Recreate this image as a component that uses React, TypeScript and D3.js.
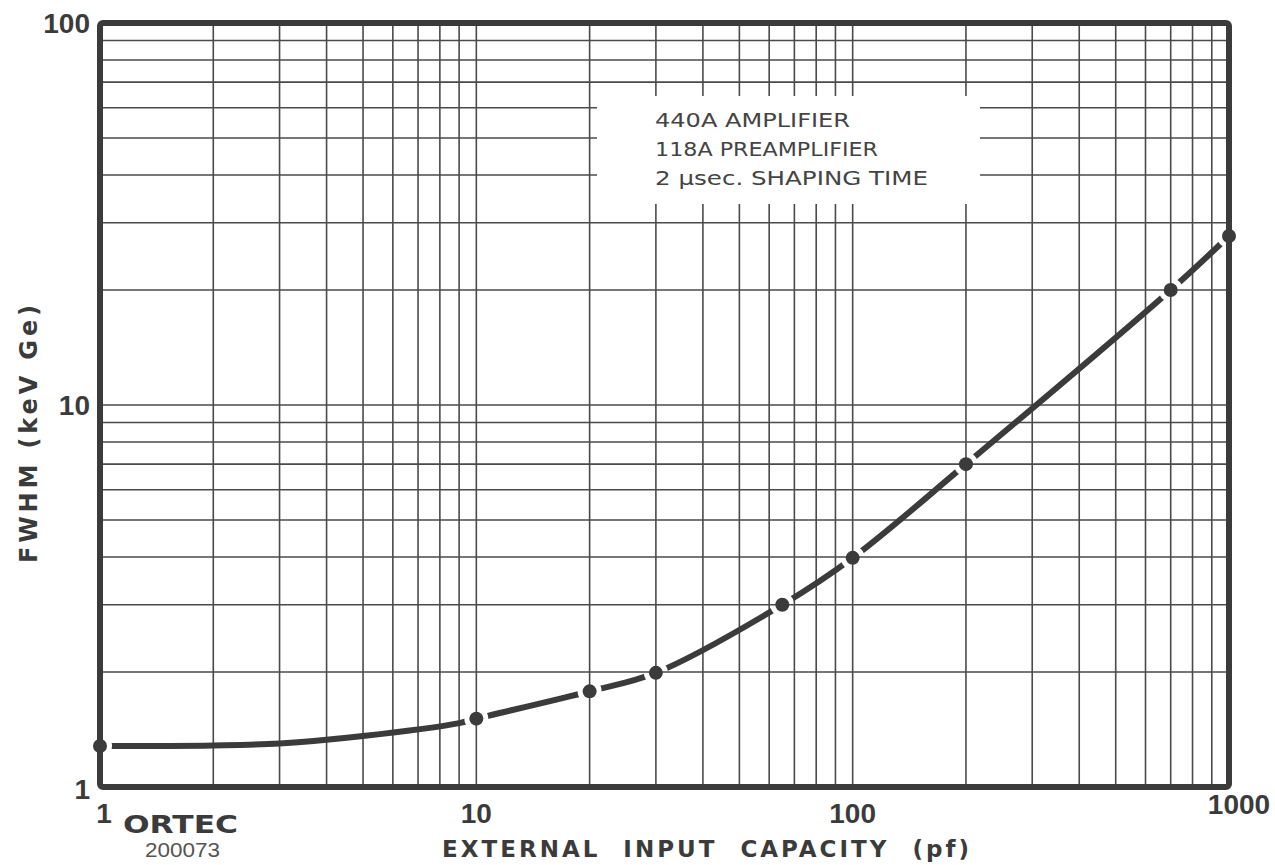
import React from "react";
import * as d3 from "d3";

const W = 1275;
const H = 865;
const MARGIN = { top: 23, right: 46, bottom: 78, left: 100 };

// values
const xTickLabels = [1, 10, 100, 1000];
const yTickLabels = [1, 10, 100];
// measured points (dots on the curve): capacity pF, FWHM keV
const dotCap = [1, 10, 20, 30, 65, 100, 200, 700, 1000];
const dotFwhm = [1.28, 1.51, 1.78, 1.99, 3.0, 3.98, 7.0, 20, 27.7];
// extra readings of the drawn curve between the dots
const curveCap = [1, 2, 3, 5, 9, 10, 20, 30, 65, 100, 200, 700, 1000];
const curveFwhm = [1.28, 1.285, 1.3, 1.36, 1.47, 1.51, 1.78, 1.99, 3.0, 3.98, 7.0, 20, 27.7];
const noteLines = ["440A AMPLIFIER", "118A PREAMPLIFIER", "2 \u03BCsec. SHAPING TIME"];

const INK = "#3b3b3b";

export default function App() {
  const bw = W - MARGIN.left - MARGIN.right;
  const bh = H - MARGIN.top - MARGIN.bottom;

  const x = d3.scaleLog().domain([1, 1000]).range([0, bw]);
  const y = d3.scaleLog().domain([1, 100]).range([bh, 0]);

  const xGrid = x.ticks();
  const yGrid = y.ticks();

  const line = d3
    .line<number>()
    .x((d, i) => x(curveCap[i]))
    .y((d) => y(d))
    .curve(d3.curveCatmullRom.alpha(0.5));

  return (
    <svg width={W} height={H} style={{ position: "absolute", left: 0, top: 0, background: "#fff" }}>
      <defs>
        <mask id="gaps">
          <rect x={-50} y={-50} width={W + 100} height={H + 100} fill="#fff" />
          {dotCap.map((c, i) => (
            <circle key={i} cx={x(c)} cy={y(dotFwhm[i])} r={12} fill="#000" />
          ))}
        </mask>
      </defs>
      <g transform={`translate(${MARGIN.left},${MARGIN.top})`}>
        {/* grid */}
        {xGrid.map((t, i) => (
          <line key={"x" + i} x1={x(t)} x2={x(t)} y1={0} y2={bh} stroke="#4a4a4a" strokeWidth={1.6} />
        ))}
        {yGrid.map((t, i) => (
          <line key={"y" + i} x1={0} x2={bw} y1={y(t)} y2={y(t)} stroke="#4a4a4a" strokeWidth={1.6} />
        ))}

        {/* note box */}
        <rect x={497} y={73} width={383} height={108} fill="#fff" />
        {noteLines.map((s, i) => (
          <text
            key={i}
            x={555}
            y={104 + i * 29}
            fontFamily="'DejaVu Sans', sans-serif"
            fontSize={19}
            fill="#444"
            textLength={[195, 223, 273][i]}
            lengthAdjust="spacingAndGlyphs"
          >
            {s}
          </text>
        ))}

        {/* frame */}
        <rect x={0} y={0} width={bw} height={bh} fill="none" stroke={INK} strokeWidth={6} rx={3} />

        {/* curve */}
        <path
          d={line(curveFwhm) || ""}
          fill="none"
          stroke={INK}
          strokeWidth={6}
          strokeLinecap="round"
          mask="url(#gaps)"
        />
        {dotCap.map((c, i) => (
          <circle key={i} cx={x(c)} cy={y(dotFwhm[i])} r={7} fill={INK} />
        ))}

        {/* y tick labels */}
        {yTickLabels.map((t, i) => (
          <text
            key={i}
            x={-10}
            y={y(t) + (t === 1 ? 12 : 10)}
            textAnchor="end"
            fontFamily="'Liberation Sans', Arial, sans-serif"
            fontWeight="bold"
            fontSize={28}
            fill={INK}
          >
            {t}
          </text>
        ))}
        {/* x tick labels */}
        {xTickLabels.map((t, i) => (
          <text
            key={i}
            x={x(t) + (t === 1 ? 4 : t === 1000 ? 10 : 0)}
            y={bh + (t === 1000 ? 27 : 36)}
            textAnchor="middle"
            fontFamily="'Liberation Sans', Arial, sans-serif"
            fontWeight="bold"
            fontSize={28}
            fill={INK}
          >
            {t}
          </text>
        ))}
      </g>

      {/* axis titles */}
      <text
        transform="translate(37,434) rotate(-90)"
        textAnchor="middle"
        fontFamily="'DejaVu Sans', sans-serif"
        fontWeight="bold"
        fontSize={24}
        fill={INK}
        textLength={258}
        lengthAdjust="spacing"
      >
        FWHM (keV Ge)
      </text>
      <text
        x={707}
        y={857}
        textAnchor="middle"
        fontFamily="'DejaVu Sans', sans-serif"
        fontWeight="bold"
        fontSize={23}
        fill={INK}
        style={{ letterSpacing: "3px", wordSpacing: "12px" }}
      >
        EXTERNAL INPUT CAPACITY (pf)
      </text>

      {/* maker mark */}
      <text
        x={123}
        y={833}
        fontFamily="'DejaVu Sans', sans-serif"
        fontWeight={900}
        fontSize={25}
        fill={INK}
        textLength={115}
        lengthAdjust="spacingAndGlyphs"
      >
        ORTEC
      </text>
      <text
        x={145}
        y={857}
        fontFamily="'Liberation Sans', Arial, sans-serif"
        fontSize={20}
        fill="#555"
        textLength={75}
        lengthAdjust="spacingAndGlyphs"
      >
        200073
      </text>
    </svg>
  );
}
